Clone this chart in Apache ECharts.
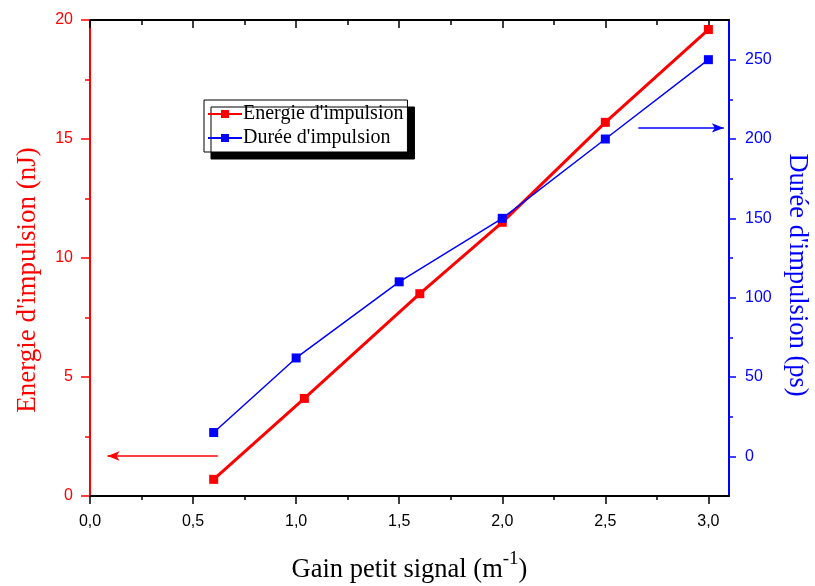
<!DOCTYPE html>
<html>
<head>
<meta charset="utf-8">
<script src="https://cdn.jsdelivr.net/npm/echarts@6/dist/echarts.min.js"></script>
<style>html,body{margin:0;padding:0;background:#fff}#c{width:815px;height:586px}</style>
</head>
<body>
<div id="c"></div>
<script>
// ---- data ----
const energyX = [0.6, 1.04, 1.6, 2.0, 2.5, 3.0];
const energyY = [0.7, 4.1, 8.5, 11.5, 15.7, 19.6];
const durationX = [0.6, 1.0, 1.5, 2.0, 2.5, 3.0];
const durationY = [15, 62, 110, 150, 200, 250];
const xTicks = [0, 0.5, 1.0, 1.5, 2.0, 2.5, 3.0];
const xMinorTicks = [0.25, 0.75, 1.25, 1.75, 2.25, 2.75];
const rightTicks = [0, 50, 100, 150, 200, 250];
const rightMinorTicks = [25, 75, 125, 175, 225];
// annotation arrows [fromX, fromY] -> [toX, toY]
const energyArrow = [[0.62, 1.68], [0.085, 1.68]];
const durationArrow = [[2.66, 207], [3.075, 207]];

const serif = '"Liberation Serif","Times New Roman",serif';
const sans = '"Liberation Sans",Arial,sans-serif';
const RED = '#ff0000', BLUE = '#0000ff';
const xFmt = v => v.toFixed(1).replace('.', ',');
const gridRect = {left: 90, top: 20, right: 86, bottom: 90, containLabel: false, outerBoundsMode: 'none'};

function xAx(gi, pos, extra) {
  return Object.assign({
    type: 'value', gridIndex: gi, position: pos, min: 0, max: 3.1,
    splitLine: {show: false}, axisLabel: {show: false}
  }, extra);
}
function yAx(gi, pos, min, max, extra) {
  return Object.assign({
    type: 'value', gridIndex: gi, position: pos, min: min, max: max,
    splitLine: {show: false}, axisLabel: {show: false}
  }, extra);
}

const chart = echarts.init(document.getElementById('c'));
chart.setOption({
  animation: false,
  backgroundColor: '#fff',
  grid: [Object.assign({}, gridRect), Object.assign({}, gridRect)],
  legend: {
    left: 204, top: 100, orient: 'vertical',
    backgroundColor: '#fff', borderColor: '#000', borderWidth: 1,
    shadowColor: '#000', shadowBlur: 0, shadowOffsetX: 7, shadowOffsetY: 7,
    padding: [4, 4, 4, 3], itemGap: 4, itemWidth: 34, itemHeight: 10,
    textStyle: {fontFamily: serif, fontSize: 20, color: '#000', padding: [0, 0, 0, -4]},
    data: ['Energie d\'impulsion', 'Durée d\'impulsion']
  },
  xAxis: [
    xAx(0, 'bottom', {
      name: '{a|Gain petit signal (m}{s|-1}{a|)}', nameLocation: 'middle', nameGap: 54,
      nameTextStyle: {rich: {
        a: {fontFamily: serif, fontSize: 26.5, color: '#000', verticalAlign: 'bottom', lineHeight: 34},
        s: {fontFamily: serif, fontSize: 19, color: '#000', verticalAlign: 'top', lineHeight: 34, padding: [0, 0, 17, 0]}
      }},
      axisLine: {onZero: false, lineStyle: {color: '#000', width: 2}},
      axisTick: {show: true, inside: false, length: 8, lineStyle: {color: '#000', width: 1.5}, customValues: xTicks},
      axisLabel: {show: true, color: '#000', fontFamily: sans, fontSize: 16, margin: 18, formatter: xFmt, customValues: xTicks}
    }),
    xAx(0, 'top', {
      axisLine: {onZero: false, lineStyle: {color: '#000', width: 2}},
      axisTick: {show: true, inside: true, length: 8, lineStyle: {color: '#000', width: 1.5}, customValues: xTicks}
    }),
    xAx(1, 'bottom', {
      axisLine: {show: false, onZero: false},
      axisTick: {show: true, inside: false, length: 4, lineStyle: {color: '#000', width: 1.5}, customValues: xMinorTicks}
    }),
    xAx(1, 'top', {
      axisLine: {show: false, onZero: false},
      axisTick: {show: true, inside: true, length: 5, lineStyle: {color: '#000', width: 1.5}, customValues: xMinorTicks}
    })
  ],
  yAxis: [
    yAx(0, 'left', 0, 20, {
      interval: 5,
      name: 'Energie d\'impulsion (nJ)', nameLocation: 'middle', nameGap: 49, nameRotate: 90,
      nameTextStyle: {fontFamily: serif, fontSize: 27, color: RED, padding: [0, 44, 0, 0]},
      axisLine: {onZero: false, lineStyle: {color: RED, width: 2}},
      axisTick: {show: true, inside: false, length: 9, lineStyle: {color: RED, width: 1.5}},
      minorTick: {show: true, splitNumber: 2, length: 5, lineStyle: {color: RED, width: 1.5}},
      axisLabel: {show: true, color: RED, fontFamily: sans, fontSize: 16, margin: 17}
    }),
    yAx(0, 'right', -25, 275, {
      name: 'Durée d\'impulsion (ps)', nameLocation: 'middle', nameGap: 54, nameRotate: -90,
      nameTextStyle: {fontFamily: serif, fontSize: 26.5, color: BLUE, padding: [0, 0, 0, 34]},
      axisLine: {onZero: false, lineStyle: {color: BLUE, width: 2}},
      axisTick: {show: true, inside: false, length: 7, lineStyle: {color: BLUE, width: 1.5}, customValues: rightTicks},
      axisLabel: {show: true, color: BLUE, fontFamily: sans, fontSize: 16, margin: 16, customValues: rightTicks}
    }),
    yAx(1, 'left', 0, 20, {
      axisLine: {show: false, onZero: false}, axisTick: {show: false}
    }),
    yAx(1, 'right', -25, 275, {
      axisLine: {show: false, onZero: false},
      axisTick: {show: true, inside: false, length: 4, lineStyle: {color: BLUE, width: 1.5}, customValues: rightMinorTicks}
    })
  ],
  series: [
    {
      name: 'Energie d\'impulsion', type: 'line', xAxisIndex: 0, yAxisIndex: 0,
      data: energyX.map((x, i) => [x, energyY[i]]),
      symbol: 'rect', symbolSize: 9,
      lineStyle: {color: RED, width: 3}, itemStyle: {color: RED},
      markLine: {
        silent: true, animation: false, label: {show: false},
        lineStyle: {color: RED, width: 1.5, type: 'solid'},
        symbol: ['none', 'arrow'], symbolSize: 12,
        data: [[{coord: energyArrow[0], symbol: 'none'}, {coord: energyArrow[1], symbol: 'arrow', symbolSize: [7, 12]}]]
      }
    },
    {
      name: 'Durée d\'impulsion', type: 'line', xAxisIndex: 0, yAxisIndex: 1,
      data: durationX.map((x, i) => [x, durationY[i]]),
      symbol: 'rect', symbolSize: 9,
      lineStyle: {color: BLUE, width: 1.5}, itemStyle: {color: BLUE},
      markLine: {
        silent: true, animation: false, label: {show: false},
        lineStyle: {color: BLUE, width: 1.5, type: 'solid'},
        symbol: ['none', 'arrow'], symbolSize: 12,
        data: [[{coord: durationArrow[0], symbol: 'none'}, {coord: durationArrow[1], symbol: 'arrow', symbolSize: [7, 12]}]]
      }
    }
  ]
});
</script>
</body>
</html>
